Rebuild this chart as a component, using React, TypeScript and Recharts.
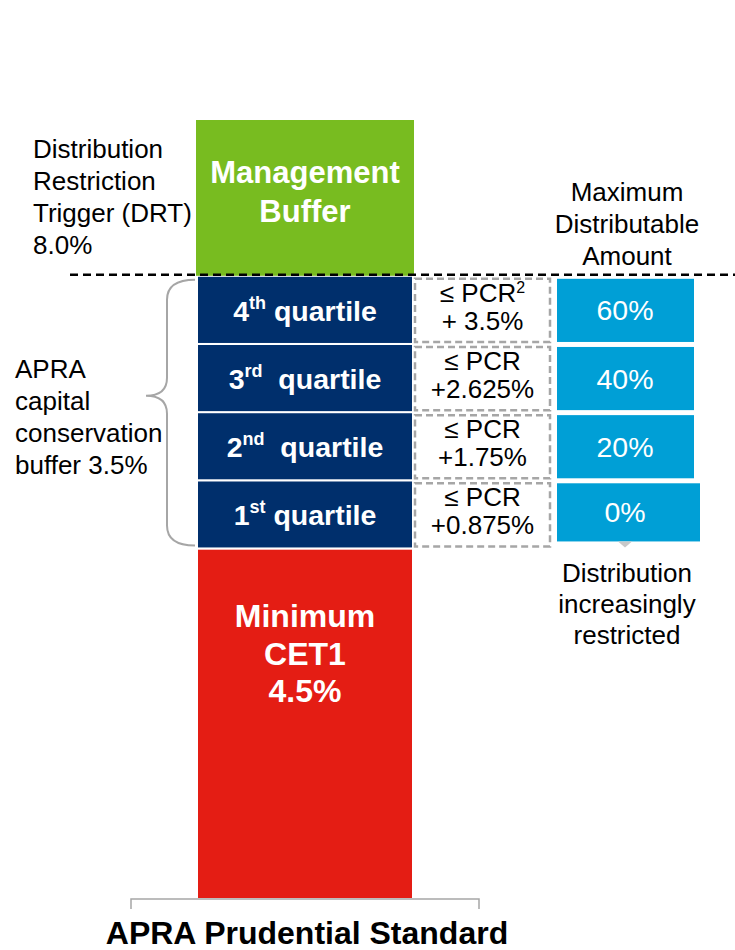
import React from "react";
import {
  BarChart, Bar, XAxis, YAxis, ReferenceLine, ReferenceArea,
} from "recharts";

// values (in % of RWA)
const category = "APRA Prudential Standard";
const minCet1 = 4.5;
const quartileSizes = [0.875, 0.875, 0.875, 0.875]; // 1st .. 4th
const managementBuffer = 2.0;
const drtLevel = 8.0;
const yMax = 10;

const quartileNumbers = ["1", "2", "3", "4"];
const quartileSuffixes = ["st", "nd", "rd", "th"];
const pcrLines = [
  ["\u2264 PCR", "+0.875%"],
  ["\u2264 PCR", "+1.75%"],
  ["\u2264 PCR", "+2.625%"],
  ["\u2264 PCR", "+ 3.5%"],
];
const mdaLabels = ["0%", "20%", "40%", "60%"];
const drtText = ["Distribution", "Restriction", "Trigger (DRT)", "8.0%"];
const bufferText = ["APRA", "capital", "conservation", "buffer 3.5%"];
const mdaTitle = ["Maximum", "Distributable", "Amount"];
const mdaNote = ["Distribution", "increasingly", "restricted"];

const data = [
  {
    name: category,
    cet1: minCet1,
    q1: quartileSizes[0],
    q2: quartileSizes[1],
    q3: quartileSizes[2],
    q4: quartileSizes[3],
    mgmt: managementBuffer,
  },
];

const FONT = "'Liberation Sans', Arial, sans-serif";
const GREEN = "#78bc20";
const NAVY = "#002f6c";
const RED = "#e41d14";
const BLUE = "#009fd6";
const GREY = "#a6a6a6";

function Cet1Shape(props: any) {
  const { x, y, width, height } = props;
  const cx = x + width / 2;
  return (
    <g>
      <rect x={x} y={y} width={width} height={height} fill={RED} stroke="#fff" strokeWidth={2} />
      <text x={cx} textAnchor="middle" fill="#fff" fontFamily={FONT} fontWeight="bold" fontSize={32}>
        <tspan x={cx} y={y + 79}>Minimum</tspan>
        <tspan x={cx} y={y + 117}>CET1</tspan>
        <tspan x={cx} y={y + 154}>4.5%</tspan>
      </text>
    </g>
  );
}

function MgmtShape(props: any) {
  const { x, y, width, height } = props;
  const cx = x + width / 2;
  const cy = y + height / 2;
  return (
    <g>
      <rect x={x - 1} y={y} width={width + 2} height={height} fill={GREEN} />
      <text x={cx} textAnchor="middle" fill="#fff" fontFamily={FONT} fontWeight="bold" fontSize={31}>
        <tspan x={cx} y={cy - 15}>Management</tspan>
        <tspan x={cx} y={cy + 24}>Buffer</tspan>
      </text>
    </g>
  );
}

const makeQuartileShape = (i: number) => (props: any) => {
  const { x, y, width, height } = props;
  const cx = x + width / 2;
  const cy = y + height / 2;
  const pcrX = x + width + 2;
  const pcrW = 135;
  const mdaX = pcrX + pcrW + 7;
  const mdaW = i === 0 ? 143 : 137;
  const mdaTop = y + 3;
  const mdaH = i === 0 ? height - 10 : height - 5;
  const mdaCx = mdaX + 68;
  return (
    <g>
      <rect x={x} y={y} width={width} height={height} fill={NAVY} stroke="#fff" strokeWidth={2} />
      <text x={cx} y={cy + 11} textAnchor="middle" fill="#fff" fontFamily={FONT} fontWeight="bold" fontSize={28.5}>
        {quartileNumbers[i]}
        <tspan dy={-12} fontSize={18}>{quartileSuffixes[i]}</tspan>
        <tspan dy={12}>{i === 1 || i === 2 ? "\u00a0 quartile" : " quartile"}</tspan>
      </text>

      {/* PCR box */}
      <rect x={pcrX} y={y + 3} width={pcrW} height={height - 5} fill="#fff"
        stroke={GREY} strokeWidth={2.5} strokeDasharray="7 4" />
      <text x={pcrX + pcrW / 2} textAnchor="middle" fill="#000" fontFamily={FONT} fontSize={26}>
        <tspan x={pcrX + pcrW / 2} y={cy - 8}>
          {pcrLines[i][0]}
          {i === 3 && <tspan dy={-9} fontSize={16}>2</tspan>}
        </tspan>
        <tspan x={pcrX + pcrW / 2} y={cy + 20}>{pcrLines[i][1]}</tspan>
      </text>

      {/* MDA box */}
      <rect x={mdaX} y={mdaTop} width={mdaW} height={mdaH} fill={BLUE} />
      <text x={mdaCx} y={mdaTop + mdaH / 2 + 10} textAnchor="middle" fill="#fff" fontFamily={FONT} fontSize={28.5}>
        {mdaLabels[i]}
      </text>

      {i === 3 && (
        <text x={mdaCx + 2} textAnchor="middle" fill="#000" fontFamily={FONT} fontSize={26}>
          {mdaTitle.map((t, k) => (
            <tspan key={k} x={mdaCx + 2} y={y - 75 + k * 32}>{t}</tspan>
          ))}
        </text>
      )}
      {i === 0 && (
        <g>
          <path d={`M ${mdaCx - 7} ${mdaTop + mdaH} L ${mdaCx + 7} ${mdaTop + mdaH} L ${mdaCx} ${mdaTop + mdaH + 6} Z`} fill="#c8c8c8" />
          <text x={mdaCx + 2} textAnchor="middle" fill="#000" fontFamily={FONT} fontSize={26}>
            {mdaNote.map((t, k) => (
              <tspan key={k} x={mdaCx + 2} y={y + height + 34 + k * 31}>{t}</tspan>
            ))}
          </text>
        </g>
      )}
    </g>
  );
};

const quartileShapes = [0, 1, 2, 3].map((i) => makeQuartileShape(i));

function DrtLine(props: any) {
  const { x1, y1, x2 } = props;
  return (
    <g>
      <line x1={x1} y1={y1 - 1} x2={x2} y2={y1 - 1} stroke="#000" strokeWidth={2.5} strokeDasharray="8 5" />
      <text fill="#000" fontFamily={FONT} fontSize={26}>
        {drtText.map((t, k) => (
          <tspan key={k} x={x1 - 37} y={y1 - 118 + k * 32}>{t}</tspan>
        ))}
      </text>
    </g>
  );
}

function BufferBrace(props: any) {
  const { x, y, width, height } = props;
  const barLeft = x + (width - 216) / 2;
  const r = barLeft - 2;
  const v = r - 28;
  const top = y + 4;
  const bot = y + height - 3;
  const mid = y + height * 0.44;
  const d = `M ${r} ${top} Q ${v} ${top} ${v} ${top + 20} L ${v} ${mid - 18} Q ${v} ${mid} ${v - 21} ${mid}` +
    ` Q ${v} ${mid} ${v} ${mid + 18} L ${v} ${bot - 20} Q ${v} ${bot} ${r} ${bot}`;
  return (
    <g>
      <path d={d} fill="none" stroke={GREY} strokeWidth={2} />
      <text fill="#000" fontFamily={FONT} fontSize={26}>
        {bufferText.map((t, k) => (
          <tspan key={k} x={15} y={y + 102 + k * 32}>{t}</tspan>
        ))}
      </text>
    </g>
  );
}

function CategoryTick(props: any) {
  const { x, y, payload } = props;
  const half = payload && payload.offset ? payload.offset : 174;
  return (
    <g>
      <path d={`M ${x - half} ${y + 10} L ${x - half} ${y} L ${x + half} ${y} L ${x + half} ${y + 10}`}
        fill="none" stroke={GREY} strokeWidth={1.5} />
      <text x={x + 2} y={y + 45} textAnchor="middle" fill="#000" fontFamily={FONT} fontWeight="bold" fontSize={32}>
        {payload.value}
      </text>
    </g>
  );
}

export default function App() {
  return (
    <div style={{ width: 735, height: 950, background: "#fff" }}>
      <style>{`body{margin:0}`}</style>
      <BarChart
        width={735}
        height={950}
        data={data}
        margin={{ top: 120, right: 0, bottom: 0, left: 70 }}
        barSize={216}
      >
        <XAxis
          dataKey="name"
          height={51}
          padding={{ left: 61, right: 256 }}
          axisLine={false}
          tickLine={false}
          tickSize={0}
          tickMargin={0}
          tick={<CategoryTick />}
          interval={0}
        />
        <YAxis hide domain={[0, yMax]} type="number" />
        <Bar dataKey="cet1" stackId="a" isAnimationActive={false} shape={Cet1Shape} />
        <Bar dataKey="q1" stackId="a" isAnimationActive={false} shape={quartileShapes[0]} />
        <Bar dataKey="q2" stackId="a" isAnimationActive={false} shape={quartileShapes[1]} />
        <Bar dataKey="q3" stackId="a" isAnimationActive={false} shape={quartileShapes[2]} />
        <Bar dataKey="q4" stackId="a" isAnimationActive={false} shape={quartileShapes[3]} />
        <Bar dataKey="mgmt" stackId="a" isAnimationActive={false} shape={MgmtShape} />
        <ReferenceArea
          y1={minCet1}
          y2={drtLevel}
          x1={category}
          x2={category}
          fill="none"
          ifOverflow="visible"
          shape={<BufferBrace />}
        />
        <ReferenceLine y={drtLevel} ifOverflow="visible" shape={<DrtLine />} />
      </BarChart>
    </div>
  );
}
